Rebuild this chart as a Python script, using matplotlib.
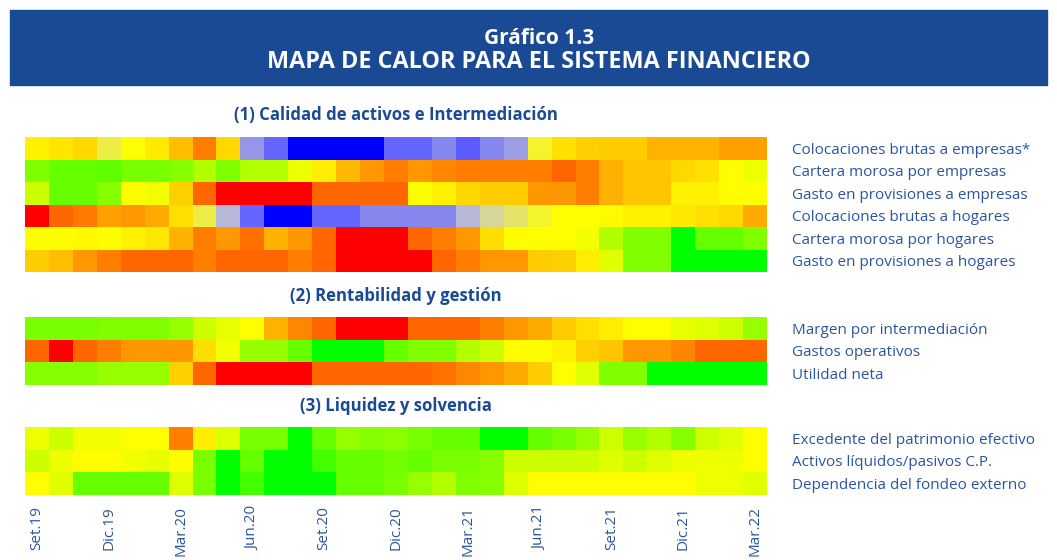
import matplotlib.pyplot as plt
import numpy as np
from matplotlib.colors import LinearSegmentedColormap, Normalize
from matplotlib.patches import Rectangle

# valores: -1 (verde / azul) .. 0 (amarillo) .. 1 (rojo)
tick_labels = ["Set.19", "Dic.19", "Mar.20", "Jun.20", "Set.20", "Dic.20",
               "Mar.21", "Jun.21", "Set.21", "Dic.21", "Mar.22"]

# (1) Calidad de activos e Intermediacion
coloc_empresas = [0.05, 0.1, 0.15, -0.08, 0.0, 0.08, 0.25, 0.5, 0.15, -0.4, -0.55,
                  -1, -1, -1, -1, -0.55, -0.55, -0.45, -0.6, -0.45, -0.38,
                  -0.05, 0.12, 0.18, 0.2, 0.2, 0.3, 0.3, 0.3, 0.37, 0.37]
morosa_empresas = [-0.5, -0.6, -0.6, -0.62, -0.53, -0.53, -0.47, -0.3, -0.5, -0.3, -0.3,
                   -0.07, 0.07, 0.28, 0.4, 0.5, 0.4, 0.47, 0.5, 0.5, 0.5,
                   0.5, 0.6, 0.5, 0.31, 0.22, 0.22, 0.15, 0.12, 0.0, -0.07]
prov_empresas = [-0.2, -0.6, -0.6, -0.47, 0.0, -0.05, 0.18, 0.6, 1, 1, 1,
                 1, 0.6, 0.6, 0.6, 0.6, 0.0, 0.05, 0.15, 0.2, 0.2,
                 0.4, 0.4, 0.5, 0.31, 0.22, 0.22, 0.05, 0.05, 0.0, 0.0]
coloc_hogares = [1, 0.6, 0.53, 0.37, 0.4, 0.33, 0.13, -0.08, -0.3, -0.55, -1,
                 -1, -0.55, -0.55, -0.45, -0.45, -0.45, -0.45, -0.3, -0.18, -0.13,
                 -0.05, 0.0, 0.0, 0.02, 0.05, 0.05, 0.09, 0.12, 0.15, 0.33]
morosa_hogares = [0.0, 0.0, 0.02, 0.0, 0.05, 0.09, 0.3, 0.5, 0.4, 0.56, 0.3,
                  0.4, 0.6, 1, 1, 1, 0.6, 0.5, 0.4, 0.13, 0.0,
                  0.0, 0.0, -0.05, -0.3, -0.5, -0.5, -1, -0.6, -0.6, -0.5]
prov_hogares = [0.2, 0.25, 0.4, 0.5, 0.6, 0.6, 0.6, 0.5, 0.6, 0.6, 0.6,
                0.5, 0.6, 1, 1, 1, 1, 0.6, 0.5, 0.4, 0.4,
                0.2, 0.18, 0.07, -0.12, -0.5, -0.5, -1, -1, -1, -1]

# (2) Rentabilidad y gestion
margen = [-0.53, -0.53, -0.53, -0.5, -0.5, -0.5, -0.4, -0.2, -0.09, 0.0, 0.3,
          0.47, 0.6, 1, 1, 1, 0.6, 0.6, 0.6, 0.5, 0.4,
          0.33, 0.2, 0.13, 0.07, 0.0, 0.0, -0.09, -0.12, -0.2, -0.4]
gastos_op = [0.6, 1, 0.6, 0.5, 0.4, 0.4, 0.4, 0.13, -0.05, -0.4, -0.4,
             -0.6, -1, -1, -1, -0.6, -0.5, -0.5, -0.3, -0.2, 0.0,
             0.0, 0.05, 0.18, 0.22, 0.4, 0.4, 0.47, 0.6, 0.6, 0.6]
utilidad = [-0.47, -0.47, -0.47, -0.4, -0.4, -0.4, 0.18, 0.6, 1, 1, 1,
            1, 0.6, 0.6, 0.6, 0.6, 0.6, 0.55, 0.47, 0.4, 0.33,
            0.2, 0.0, -0.12, -0.5, -0.5, -1, -1, -1, -1, -1]

# (3) Liquidez y solvencia
excedente = [-0.07, -0.2, -0.05, -0.05, 0.0, 0.0, 0.5, 0.07, -0.13, -0.53, -0.53,
             -1, -0.6, -0.4, -0.47, -0.45, -0.53, -0.6, -0.6, -1, -1,
             -0.6, -0.53, -0.4, -0.2, -0.4, -0.3, -0.47, -0.2, -0.12, 0.0]
liquidos = [-0.2, -0.07, 0.0, 0.0, -0.05, -0.09, 0.0, -0.53, -1, -0.6, -1,
            -1, -0.73, -0.6, -0.6, -0.55, -0.6, -0.53, -0.53, -0.47, -0.2,
            -0.2, -0.2, -0.2, -0.13, -0.2, -0.12, -0.07, -0.07, -0.07, 0.0]
fondeo = [0.0, -0.12, -0.6, -0.6, -0.6, -0.6, -0.13, -0.53, -1, -0.73, -1,
          -1, -1, -0.6, -0.6, -0.53, -0.4, -0.3, -0.5, -0.47, -0.13,
          0.0, 0.0, 0.0, 0.0, 0.0, 0.0, 0.0, -0.07, -0.07, -0.12]

panels = [
    ("(1) Calidad de activos e Intermediación",
     [("Colocaciones brutas a empresas*", coloc_empresas, "credito"),
      ("Cartera morosa por empresas", morosa_empresas, "riesgo"),
      ("Gasto en provisiones a empresas", prov_empresas, "riesgo"),
      ("Colocaciones brutas a hogares", coloc_hogares, "credito"),
      ("Cartera morosa por hogares", morosa_hogares, "riesgo"),
      ("Gasto en provisiones a hogares", prov_hogares, "riesgo")]),
    ("(2) Rentabilidad y gestión",
     [("Margen por intermediación", margen, "riesgo"),
      ("Gastos operativos", gastos_op, "riesgo"),
      ("Utilidad neta", utilidad, "riesgo")]),
    ("(3) Liquidez y solvencia",
     [("Excedente del patrimonio efectivo", excedente, "riesgo"),
      ("Activos líquidos/pasivos C.P.", liquidos, "riesgo"),
      ("Dependencia del fondeo externo", fondeo, "riesgo")]),
]

cmaps = {
    "riesgo": LinearSegmentedColormap.from_list(
        "riesgo", [(0, "#00ff00"), (0.25, "#80ff00"), (0.5, "#ffff00"),
                   (0.75, "#ff8000"), (1, "#ff0000")]),
    "credito": LinearSegmentedColormap.from_list(
        "credito", [(0, "#0000ff"), (0.225, "#6666ff"), (0.375, "#c8c8d0"),
                    (0.5, "#ffff00"), (0.75, "#ff8000"), (1, "#ff0000")]),
}
norm = Normalize(-1, 1)

azul = "#1a4a94"
texto = "#2a55a0"
W, H = 1057, 560

fig = plt.figure(figsize=(W / 100, H / 100), dpi=100)
fig.patches.append(Rectangle((10 / W, 1 - 85 / H), 1037 / W, 75 / H,
                             transform=fig.transFigure, color=azul, zorder=0))
fig.text(539 / W, 1 - 38 / H, "Gráfico 1.3", color="white", fontsize=15,
         fontweight="bold", ha="center", va="center", family="Open Sans")
fig.text(539 / W, 1 - 62 / H, "MAPA DE CALOR PARA EL SISTEMA FINANCIERO",
         color="white", fontsize=16.8, fontweight="bold", ha="center",
         va="center", family="Open Sans")

# (titulo y, top y, bottom y) en pixeles
boxes = [(115, 137, 272), (296, 317, 385), (406, 427, 495)]

n = len(coloc_empresas)
for k, ((titulo, rows), (ty, top, bot)) in enumerate(zip(panels, boxes)):
    fig.text(396 / W, 1 - ty / H, titulo, color=azul, fontsize=12.1,
             fontweight="bold", ha="center", va="center", family="Open Sans")
    ax = fig.add_axes([25 / W, 1 - bot / H, 742 / W, (bot - top) / H])
    for i, (nombre, vals, cm) in enumerate(rows):
        ax.pcolormesh(np.arange(n + 1), [i, i + 1], np.array([vals]),
                      cmap=cmaps[cm], norm=norm)
    ax.set_xlim(0, n)
    ax.set_ylim(len(rows), 0)
    for s in ax.spines.values():
        s.set_visible(False)
    ax.yaxis.tick_right()
    ax.set_yticks(np.arange(len(rows)) + 0.5)
    ax.set_yticklabels([r[0] for r in rows], color=texto, fontsize=11,
                       family="Open Sans")
    ax.tick_params(axis="y", length=0, pad=18)
    if k == 2:
        ax.set_xticks(np.arange(0, n, 3) + 0.5)
        ax.set_xticklabels(tick_labels, rotation=90, color=texto, fontsize=11,
                           family="Open Sans")
        ax.tick_params(axis="x", length=0, pad=8)
    else:
        ax.set_xticks([])

fig.savefig("out.png", dpi=100)
